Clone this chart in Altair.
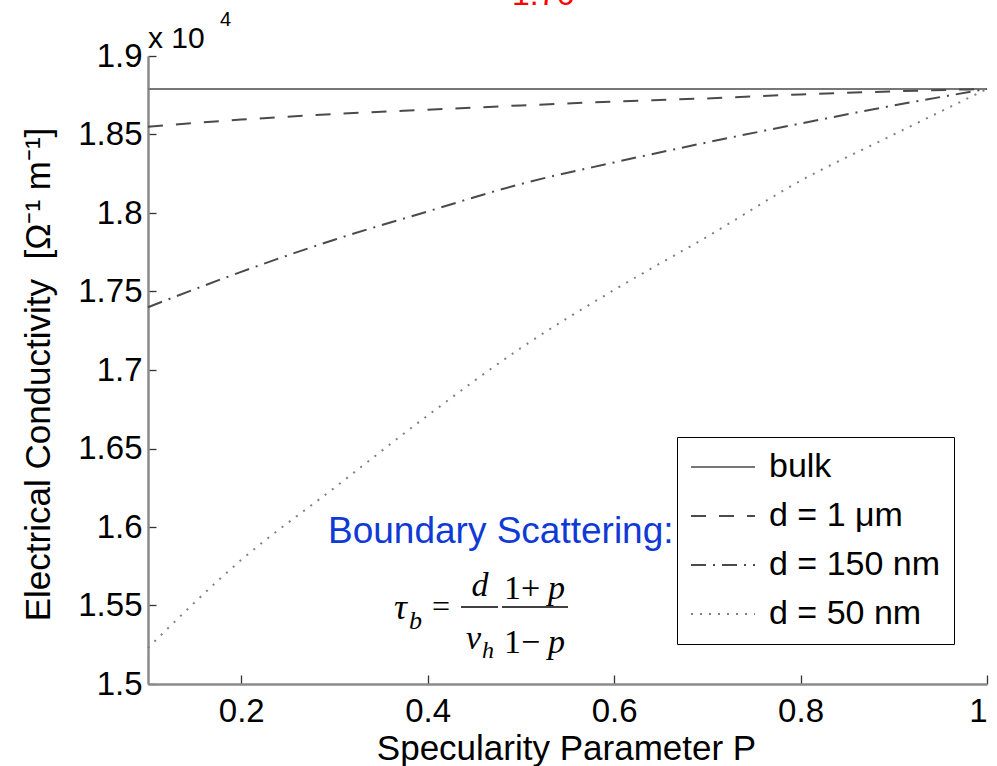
import altair as alt
import pandas as pd

# ---- data (conductivity in units of 1e4 S/m) ----
P = [0.1, 0.2, 0.3, 0.4, 0.5, 0.6, 0.7, 0.8, 0.9, 1.0]
bulk = [1.879, 1.879, 1.879, 1.879, 1.879, 1.879, 1.879, 1.879, 1.879, 1.879]
d_1um = [1.855, 1.8595, 1.863, 1.8658, 1.8685, 1.871, 1.873, 1.8755, 1.8775, 1.879]
d_150nm = [1.740, 1.7625, 1.783, 1.801, 1.8185, 1.8322, 1.845, 1.857, 1.8685, 1.879]
d_50nm = [1.523, 1.579, 1.625, 1.671, 1.714, 1.751, 1.785, 1.8205, 1.850, 1.879]
series_names = ["bulk", "d = 1 \u03bcm", "d = 150 nm", "d = 50 nm"]
x_ticks = [0.2, 0.4, 0.6, 0.8, 1.0]
y_ticks = [1.5, 1.55, 1.6, 1.65, 1.7, 1.75, 1.8, 1.85, 1.9]

rows = []
for name, vals in zip(series_names, [bulk, d_1um, d_150nm, d_50nm]):
    for p, v in zip(P, vals):
        rows.append({"P": p, "sigma": v, "series": name})
df = pd.DataFrame(rows)

FONT = "Liberation Sans"
SERIF = "Liberation Serif"
W, H = 839, 628

legend = alt.Legend(
    title=None, orient="none", legendX=529, legendY=381, direction="vertical",
    symbolType="M-4,0H4", symbolSize=256, symbolStrokeWidth=2, symbolOffset=16,
    labelFont=FONT, labelFontSize=34, labelColor="black", labelOffset=29, labelLimit=400,
    strokeColor="black", fillColor="white", padding=13, rowPadding=15,
)

lines = alt.Chart(df).mark_line(interpolate="monotone", strokeWidth=2).encode(
    x=alt.X("P:Q", scale=alt.Scale(domain=[0.1, 1.0], nice=False, zero=False),
            axis=alt.Axis(values=x_ticks, format=".2~f", title="Specularity Parameter P",
                          grid=True, gridDash=[0, 619, 9, 3000], gridColor="#333", gridWidth=1.3,
                          gridOpacity=1, ticks=False, domainColor="#8a8a8a", domainWidth=2.5,
                          labelFont=FONT, labelFontSize=33, labelColor="black", labelPadding=11,
                          titleFont=FONT, titleFontSize=35, titleFontWeight="normal",
                          titleColor="black", titleX=418, titleY=75, titleAlign="center",
                          titleBaseline="alphabetic")),
    y=alt.Y("sigma:Q", scale=alt.Scale(domain=[1.5, 1.9], nice=False, zero=False),
            axis=alt.Axis(values=y_ticks, format=".2~f",
                          title="Electrical Conductivity\u00a0\u00a0[\u03a9\u207b\u00b9 m\u207b\u00b9]",
                          grid=True, gridDash=[8, 3000], gridColor="#333", gridWidth=1.3,
                          gridOpacity=1, ticks=False, domainColor="#8a8a8a", domainWidth=2.5,
                          labelFont=FONT, labelFontSize=33, labelColor="black", labelPadding=6,
                          titleFont=FONT, titleFontSize=35, titleFontWeight="normal",
                          titleColor="black", titleX=-110, titleY=318, titleAngle=270,
                          titleAlign="center", titleBaseline="middle")),
    color=alt.Color("series:N", scale=alt.Scale(domain=series_names,
                                                range=["#777777", "#4a4a4a", "#4a4a4a", "#808080"]),
                    legend=legend),
    strokeDash=alt.StrokeDash("series:N", scale=alt.Scale(domain=series_names,
                                                          range=[[1, 0], [15, 13], [15, 7, 2, 7], [2, 7]]),
                              legend=legend),
)


def label(text, x, y, size, color="black", font=FONT, style="normal", align="left", baseline="alphabetic"):
    return alt.Chart(pd.DataFrame({"t": [text]})).mark_text(
        font=font, fontSize=size, color=color, fontStyle=style, align=align, baseline=baseline
    ).encode(x=alt.value(x), y=alt.value(y), text="t:N")


def bar(x1, x2, y):
    return alt.Chart(pd.DataFrame({"t": [0]})).mark_rule(color="black", strokeWidth=1.5).encode(
        x=alt.value(x1), x2=alt.value(x2), y=alt.value(y))


texts = [
    label("x 10", 0, -8, 30),
    label("4", 72, -30, 20),
    label("1.76", 364, -51, 32, color="#ff0000"),
    label("Boundary Scattering:", 180, 487, 37, color="#0f3ad6"),
    # formula  tau_b = d / v_h * (1+p)/(1-p)
    label("\u03c4", 246, 563, 36, font=SERIF, style="italic"),
    label("b", 261, 573, 26, font=SERIF, style="italic"),
    label("=", 293, 561, 32, font=SERIF, align="center"),
    bar(313, 350, 551),
    label("d", 332, 540, 34, font=SERIF, style="italic", align="center"),
    label("v", 318, 593, 34, font=SERIF, style="italic"),
    label("h", 334, 602, 24, font=SERIF, style="italic"),
    bar(354, 420, 551),
    label("1+", 356, 543, 34, font=SERIF),
    label("p", 400, 543, 34, font=SERIF, style="italic"),
    label("1\u2212", 356, 597, 34, font=SERIF),
    label("p", 400, 597, 34, font=SERIF, style="italic"),
]

chart = alt.layer(lines, *texts).properties(
    width=W, height=H,
    autosize=alt.AutoSizeParams(type="none"),
    padding={"left": 148, "top": 56, "right": 10, "bottom": 82},
    background="white",
).configure_view(stroke="transparent")

chart.save("out.html", embed_options={"renderer": "svg", "actions": False})
